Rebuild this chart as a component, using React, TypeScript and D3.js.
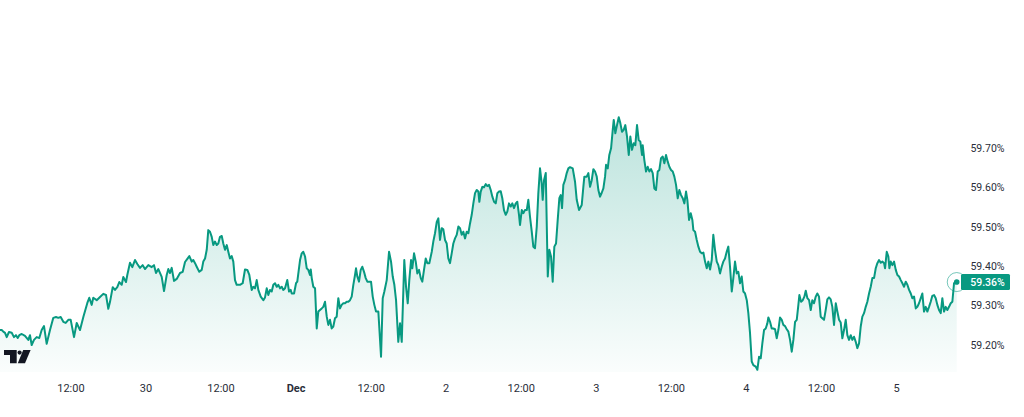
import React from "react";
import * as d3 from "d3";

// Hours since 29 Nov 00:00 (UTC) for each reading
const hours = [
  0.66, 0.93, 1.18, 1.46, 1.73, 2.09, 2.53, 2.89, 3.21, 3.49, 3.74, 4.13, 4.65, 5.18, 5.45, 5.72, 6.09, 6.52, 6.94, 7.32,
  7.69, 8.12, 8.65, 9.18, 9.61, 9.98, 10.36, 10.78, 11.16, 11.58, 11.96, 12.49, 12.92, 13.45, 13.98, 14.62, 14.93, 15.32, 15.57, 16.12,
  16.65, 17.17, 17.61, 17.97, 18.24, 18.68, 19.04, 19.41, 19.73, 20.12, 20.37, 20.8, 21.01, 21.44, 21.81, 22.24, 22.61, 23.04, 23.47, 23.84,
  24.37, 24.91, 25.28, 25.6, 25.97, 26.51, 26.88, 27.31, 27.57, 27.84, 28.11, 28.48, 28.91, 29.44, 29.87, 30.24, 30.61, 30.93, 31.31, 31.56,
  31.84, 32.11, 32.52, 32.91, 33.16, 33.44, 33.71, 33.96, 34.23, 34.51, 34.76, 35.03, 35.31, 35.56, 35.83, 36.11, 36.36, 36.63, 36.91, 37.16,
  37.43, 37.7, 37.96, 38.23, 38.5, 39.03, 39.46, 39.83, 40.2, 40.52, 40.9, 41.16, 41.43, 41.7, 41.96, 42.34, 42.76, 43.03, 43.3, 43.56,
  43.83, 44.1, 44.36, 44.63, 44.9, 45.16, 45.43, 45.7, 45.96, 46.23, 46.59, 46.87, 47.14, 47.3, 47.67, 47.99, 48.19, 48.63, 48.9, 49.15,
  49.43, 49.7, 49.95, 50.22, 50.34, 50.5, 50.75, 51.03, 51.3, 51.55, 51.82, 52.1, 52.35, 52.62, 52.9, 53.15, 53.42, 53.69, 53.95, 54.22,
  54.49, 54.75, 55.02, 55.29, 55.55, 55.82, 56.09, 56.35, 56.62, 56.89, 57.15, 57.42, 57.58, 57.79, 58.06, 58.33, 58.59, 58.86, 59.13, 59.39,
  59.71, 59.98, 60.25, 60.51, 60.78, 61.15, 61.58, 61.85, 62.11, 62.49, 62.86, 63.18, 63.45, 63.71, 63.98, 64.34, 64.62, 64.89, 65.3, 65.58,
  65.85, 66.1, 66.38, 66.58, 66.86, 67.13, 67.38, 67.66, 67.93, 68.18, 68.45, 68.73, 68.98, 69.3, 69.69, 69.94, 70.21, 70.49, 70.74, 71.01,
  71.28, 71.54, 71.81, 72.08, 72.34, 72.61, 72.88, 73.14, 73.41, 73.68, 73.94, 74.21, 74.48, 74.74, 75.01, 75.28, 75.54, 75.81, 76.08, 76.34,
  76.61, 76.88, 77.14, 77.3, 77.52, 77.78, 78.05, 78.32, 78.58, 78.85, 79.12, 79.38, 79.65, 79.92, 80.18, 80.45, 80.72, 80.97, 81.24, 81.52,
  81.77, 82.04, 82.32, 82.57, 82.84, 83.12, 83.37, 83.64, 83.8, 84.08, 84.33, 84.6, 84.88, 85.13, 85.4, 85.68, 85.93, 86.2, 86.48, 86.73,
  87.0, 87.27, 87.43, 87.64, 87.92, 88.24, 88.49, 88.76, 89.03, 89.29, 89.56, 89.83, 90.09, 90.31, 90.52, 90.73, 91.0, 91.27, 91.53, 91.8,
  92.23, 92.6, 92.87, 93.24, 93.67, 93.93, 94.09, 94.47, 94.73, 95.0, 95.27, 95.53, 95.8, 96.07, 96.33, 96.6, 96.87, 97.13, 97.4, 97.56,
  97.83, 98.08, 98.36, 98.63, 98.79, 99.04, 99.31, 99.59, 99.84, 100.11, 100.38, 100.64, 100.91, 101.19, 101.44, 101.71, 101.98, 102.24, 102.51, 102.78,
  103.04, 103.31, 103.42, 103.68, 103.95, 104.22, 104.48, 104.75, 105.02, 105.28, 105.55, 105.82, 106.08, 106.35, 106.62, 106.88, 107.15, 107.42, 107.68, 107.95,
  108.22, 108.48, 108.75, 109.02, 109.28, 109.55, 109.82, 110.08, 110.35, 110.56, 110.83, 111.1, 111.36, 111.52, 111.79, 112.06, 112.32, 112.59, 112.86, 113.12,
  113.39, 113.66, 113.92, 114.19, 114.46, 114.71, 114.98, 115.26, 115.51, 115.78, 116.05, 116.31, 116.58, 116.85, 117.11, 117.38, 117.66, 117.91, 118.18, 118.45,
  118.71, 118.98, 119.25, 119.51, 119.78, 120.06, 120.31, 120.58, 120.85, 121.11, 121.49, 121.75, 122.02, 122.29, 122.55, 122.82, 123.09, 123.35, 123.51, 123.78,
  124.05, 124.31, 124.58, 124.85, 125.11, 125.38, 125.65, 125.91, 126.18, 126.45, 126.71, 126.98, 127.25, 127.51, 127.78, 128.05, 128.31, 128.47, 128.74, 129.01,
  129.27, 129.49, 129.75, 130.02, 130.29, 130.54, 130.81, 131.09, 131.34, 131.61, 131.88, 132.14, 132.41, 132.68, 132.94, 133.21, 133.48, 133.74, 134.01, 134.29,
  134.54, 134.81, 135.08, 135.34, 135.61, 135.88, 136.14, 136.41, 136.68, 136.94, 137.21, 137.48, 137.74, 138.01, 138.28, 138.54, 138.81, 139.08, 139.34, 139.61,
  139.88, 140.14, 140.41, 140.68, 140.94, 141.21, 141.48, 141.74, 142.01, 142.17, 142.44, 142.7, 142.86, 143.08, 143.34, 143.61, 143.88, 144.14, 144.41, 144.68,
  144.94, 145.21, 145.48, 145.74, 146.01, 146.28, 146.53, 146.81, 147.08, 147.33, 147.6, 147.88, 148.13, 148.4, 148.67, 148.93, 149.2, 149.47, 149.73, 150.0,
  150.27, 150.53, 150.8, 151.07, 151.33, 151.6, 151.87, 152.13, 152.4, 152.67, 152.93, 153.2, 153.63,
];

// Percentage values
const values = [
  59.238, 59.238, 59.234, 59.231, 59.22, 59.233, 59.231, 59.22, 59.225, 59.218, 59.225, 59.228, 59.223, 59.213, 59.225, 59.2, 59.213, 59.22, 59.218, 59.238,
  59.248, 59.203, 59.238, 59.269, 59.271, 59.269, 59.271, 59.259, 59.256, 59.264, 59.264, 59.22, 59.256, 59.238, 59.271, 59.307, 59.32, 59.302, 59.32, 59.314,
  59.322, 59.33, 59.327, 59.292, 59.309, 59.347, 59.34, 59.347, 59.36, 59.353, 59.373, 59.36, 59.378, 59.409, 59.398, 59.416, 59.406, 59.396, 59.403, 59.393,
  59.403, 59.398, 59.403, 59.383, 59.393, 59.373, 59.337, 59.378, 59.393, 59.383, 59.396, 59.363, 59.368, 59.383, 59.386, 59.411, 59.419, 59.426, 59.412, 59.416,
  59.408, 59.399, 59.386, 59.391, 59.412, 59.42, 59.442, 59.492, 59.488, 59.475, 59.454, 59.463, 59.454, 59.458, 59.475, 59.477, 59.458, 59.442, 59.454, 59.437,
  59.42, 59.426, 59.412, 59.365, 59.353, 59.353, 59.357, 59.392, 59.391, 59.378, 59.34, 59.348, 59.344, 59.365, 59.34, 59.323, 59.314, 59.321, 59.344, 59.327,
  59.34, 59.336, 59.353, 59.357, 59.348, 59.353, 59.344, 59.348, 59.34, 59.344, 59.365, 59.336, 59.34, 59.331, 59.331, 59.357, 59.361, 59.416, 59.433, 59.437,
  59.425, 59.395, 59.391, 59.378, 59.392, 59.37, 59.348, 59.344, 59.242, 59.285, 59.289, 59.293, 59.297, 59.31, 59.272, 59.251, 59.264, 59.242, 59.247, 59.268,
  59.272, 59.319, 59.293, 59.302, 59.306, 59.306, 59.31, 59.31, 59.314, 59.323, 59.353, 59.378, 59.395, 59.374, 59.361, 59.391, 59.399, 59.386, 59.37, 59.361,
  59.361, 59.361, 59.323, 59.302, 59.285, 59.285, 59.17, 59.319, 59.336, 59.365, 59.437, 59.412, 59.374, 59.353, 59.314, 59.208, 59.255, 59.208, 59.416, 59.348,
  59.306, 59.365, 59.416, 59.395, 59.433, 59.412, 59.382, 59.391, 59.37, 59.361, 59.391, 59.42, 59.408, 59.408, 59.437, 59.463, 59.484, 59.513, 59.522, 59.467,
  59.497, 59.494, 59.467, 59.458, 59.42, 59.408, 59.433, 59.458, 59.471, 59.48, 59.501, 59.497, 59.48, 59.488, 59.471, 59.488, 59.484, 59.509, 59.531, 59.56,
  59.586, 59.594, 59.59, 59.564, 59.59, 59.602, 59.601, 59.609, 59.604, 59.607, 59.594, 59.577, 59.564, 59.56, 59.586, 59.59, 59.591, 59.573, 59.543, 59.531,
  59.539, 59.56, 59.552, 59.56, 59.548, 59.56, 59.564, 59.531, 59.505, 59.543, 59.535, 59.543, 59.543, 59.569, 59.526, 59.488, 59.45, 59.446, 59.501, 59.586,
  59.649, 59.611, 59.569, 59.619, 59.637, 59.374, 59.442, 59.425, 59.361, 59.45, 59.458, 59.518, 59.573, 59.581, 59.548, 59.607, 59.619, 59.637, 59.649, 59.652,
  59.649, 59.615, 59.569, 59.543, 59.556, 59.602, 59.628, 59.628, 59.637, 59.602, 59.619, 59.647, 59.641, 59.628, 59.594, 59.577, 59.587, 59.598, 59.628, 59.658,
  59.649, 59.683, 59.7, 59.747, 59.772, 59.738, 59.759, 59.779, 59.764, 59.742, 59.747, 59.759, 59.73, 59.683, 59.73, 59.696, 59.713, 59.708, 59.759, 59.721,
  59.717, 59.683, 59.708, 59.67, 59.641, 59.653, 59.641, 59.647, 59.637, 59.598, 59.594, 59.641, 59.645, 59.675, 59.679, 59.662, 59.683, 59.666, 59.653, 59.645,
  59.641, 59.628, 59.607, 59.573, 59.594, 59.581, 59.573, 59.56, 59.59, 59.569, 59.518, 59.535, 59.518, 59.492, 59.488, 59.467, 59.45, 59.437, 59.433, 59.435,
  59.412, 59.395, 59.412, 59.392, 59.416, 59.48, 59.442, 59.412, 59.403, 59.382, 59.399, 59.412, 59.42, 59.437, 59.45, 59.399, 59.336, 59.37, 59.412, 59.382,
  59.386, 59.357, 59.374, 59.336, 59.331, 59.314, 59.281, 59.23, 59.158, 59.149, 59.145, 59.137, 59.17, 59.166, 59.204, 59.238, 59.242, 59.255, 59.27, 59.259,
  59.242, 59.242, 59.24, 59.217, 59.238, 59.27, 59.264, 59.251, 59.248, 59.24, 59.234, 59.213, 59.183, 59.213, 59.259, 59.264, 59.302, 59.327, 59.31, 59.314,
  59.323, 59.338, 59.319, 59.314, 59.289, 59.314, 59.306, 59.323, 59.331, 59.323, 59.272, 59.268, 59.264, 59.289, 59.316, 59.321, 59.316, 59.297, 59.251, 59.306,
  59.285, 59.264, 59.257, 59.217, 59.238, 59.264, 59.225, 59.213, 59.225, 59.213, 59.221, 59.208, 59.192, 59.204, 59.247, 59.272, 59.281, 59.297, 59.31, 59.331,
  59.348, 59.37, 59.37, 59.395, 59.408, 59.416, 59.409, 59.412, 59.408, 59.395, 59.437, 59.425, 59.395, 59.412, 59.403, 59.412, 59.391, 59.378, 59.374, 59.365,
  59.357, 59.348, 59.361, 59.353, 59.34, 59.331, 59.319, 59.323, 59.293, 59.297, 59.306, 59.319, 59.331, 59.285, 59.297, 59.285, 59.297, 59.31, 59.325, 59.327,
  59.319, 59.302, 59.289, 59.281, 59.319, 59.285, 59.297, 59.289, 59.297, 59.306, 59.31, 59.357, 59.36,
];

const yTicks = [59.2, 59.3, 59.4, 59.5, 59.6, 59.7];
const monthNames = ["Jan", "Feb", "Mar", "Apr", "May", "Jun", "Jul", "Aug", "Sep", "Oct", "Nov", "Dec"];

const START = Date.UTC(2024, 10, 29);
const END = Date.UTC(2024, 11, 5);
const LINE = "#089981";
const TEXT = "#2a2e39";
const FONT = "Roboto, 'Noto Sans', sans-serif";

export default function App() {
  const W = 1024;
  const H = 417;
  const plotBottom = 372;

  const data = hours.map((h, i) => ({ t: new Date(START + h * 3600e3), v: values[i] }));

  const x = d3.scaleUtc().domain([new Date(START), new Date(END)]).range([-4.1, 896.5]);
  const y = d3.scaleLinear().domain([59.2, 59.7]).range([345, 148.3]);

  const line = d3
    .line<{ t: Date; v: number }>()
    .x((d) => x(d.t))
    .y((d) => y(d.v));
  const area = d3
    .area<{ t: Date; v: number }>()
    .x((d) => x(d.t))
    .y0(plotBottom)
    .y1((d) => y(d.v));

  const xTicks = d3.utcHour
    .every(12)!
    .range(new Date(START + 12 * 3600e3), new Date(END + 1));
  const fmt = (d: Date) => {
    if (d.getUTCHours() === 12) return "12:00";
    if (d.getUTCDate() === 1) return monthNames[d.getUTCMonth()];
    return String(d.getUTCDate());
  };

  const last = data[data.length - 1];
  const lx = x(last.t);
  const ly = y(last.v);
  const maxV = d3.max(values)!;

  return (
    <svg
      width={W}
      height={H}
      style={{ position: "absolute", left: 0, top: 0, display: "block", background: "#fff" }}
    >
      <defs>
        <linearGradient id="fillGrad" gradientUnits="userSpaceOnUse" x1="0" x2="0" y1={y(maxV)} y2={plotBottom}>
          <stop offset="0%" stopColor={LINE} stopOpacity={0.27} />
          <stop offset="100%" stopColor={LINE} stopOpacity={0.02} />
        </linearGradient>
      </defs>
      <path d={area(data)!} fill="url(#fillGrad)" />
      <path d={line(data)!} fill="none" stroke={LINE} strokeWidth={2} strokeLinejoin="round" />
      <circle cx={lx} cy={ly} r={9.5} fill="none" stroke={LINE} strokeOpacity={0.55} strokeWidth={1} />
      <circle cx={lx} cy={ly} r={2.8} fill={LINE} />

      {/* TradingView logo */}
      <g fill="#131722">
        <path d="M4 350 H16.7 V363.3 H10 V355 H4 Z" />
        <circle cx={19.6} cy={352.6} r={2.1} />
        <path d="M23.2 350 H30.6 L25 363.3 H17.8 Z" />
      </g>

      {/* x axis labels */}
      {xTicks.map((d, i) => {
        const label = fmt(d);
        return (
          <text
            key={i}
            x={x(d)}
            y={392}
            textAnchor="middle"
            fontFamily={FONT}
            fontSize={11}
            fontWeight={label === "Dec" ? 700 : 400}
            fill={TEXT}
          >
            {label}
          </text>
        );
      })}

      {/* y axis labels */}
      {yTicks.map((v) => (
        <text
          key={v}
          x={987.5}
          y={y(v)}
          dy="0.35em"
          textAnchor="middle"
          fontFamily={FONT}
          fontSize={10.5}
          fill={TEXT}
        >
          {v.toFixed(2)}%
        </text>
      ))}

      {/* last value badge */}
      <rect x={961} y={ly - 8} width={49} height={16} rx={1.5} fill={LINE} />
      <text
        x={987.5}
        y={ly}
        dy="0.35em"
        textAnchor="middle"
        fontFamily={FONT}
        fontSize={10.5}
        fontWeight={500}
        fill="#fff"
      >
        {last.v.toFixed(2)}%
      </text>
    </svg>
  );
}
